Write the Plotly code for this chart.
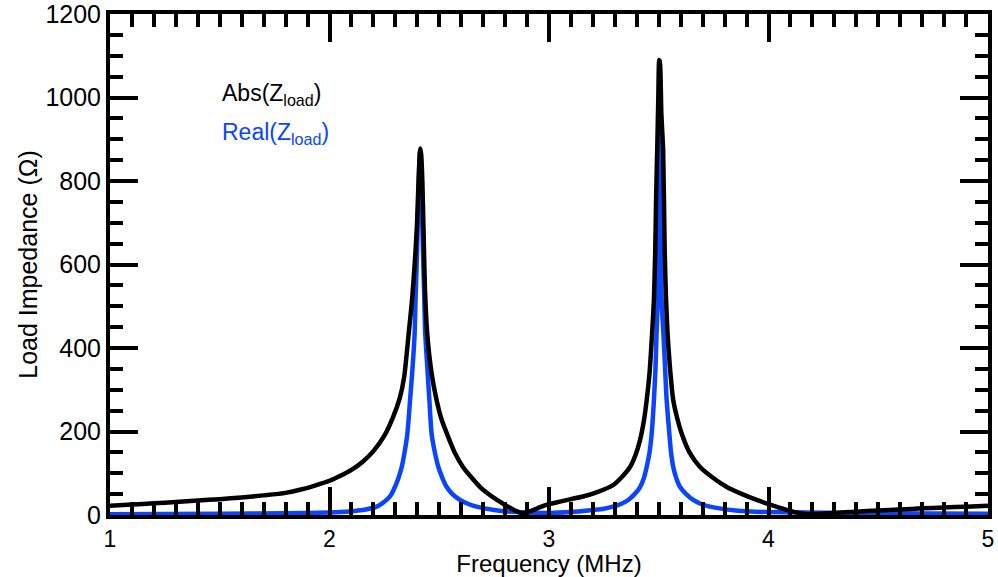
import plotly.graph_objects as go

# Abs(Z_load) (MHz, Ohm)
abs_freq = [1.00, 1.10, 1.20, 1.30, 1.40, 1.50, 1.60, 1.70, 1.80, 1.87, 1.93, 2.00, 2.05, 2.10,
            2.15, 2.20, 2.25, 2.29, 2.32, 2.34, 2.361, 2.376, 2.388, 2.398, 2.405, 2.410, 2.414,
            2.418, 2.423, 2.428, 2.435, 2.445, 2.465, 2.488, 2.51, 2.534, 2.57, 2.608, 2.65,
            2.686, 2.72, 2.763, 2.80, 2.84, 2.88, 2.92, 2.96, 3.00, 3.05, 3.10, 3.16, 3.22, 3.29,
            3.33, 3.369, 3.395, 3.415, 3.432, 3.445, 3.458, 3.468, 3.478, 3.484, 3.488, 3.493,
            3.498, 3.502, 3.506, 3.512, 3.52, 3.527, 3.533, 3.54, 3.55, 3.566, 3.585, 3.604,
            3.64, 3.688, 3.75, 3.81, 3.88, 3.946, 4.00, 4.06, 4.12, 4.18, 4.24, 4.30, 4.40,
            4.50, 4.60, 4.70, 4.80, 4.90, 5.00]
abs_z = [22, 25, 28, 31, 35, 38, 42, 47, 53, 61, 70, 82, 94, 108,
         127, 153, 190, 235, 280, 330, 436, 515, 600, 690, 790, 855, 878,
         862, 800, 690, 540, 436, 340, 275, 230, 196, 150, 115, 88,
         67, 52, 36, 24, 12, 4, 10, 19, 26, 32, 38, 45, 55, 71,
         90, 115, 145, 180, 225, 275, 340, 420, 515, 635, 760, 874,
         1000, 1090, 1080, 960, 874, 635, 520, 436, 360, 275, 230, 196,
         150, 115, 88, 67, 50, 36, 26, 16, 7, 2, 3, 5, 8,
         11, 13, 16, 18, 20, 22]

# Real(Z_load) (MHz, Ohm)
real_freq = [1.00, 1.50, 1.80, 2.00, 2.05, 2.10, 2.15, 2.18, 2.215, 2.24, 2.26, 2.28, 2.298,
             2.315, 2.329, 2.342, 2.355, 2.367, 2.378, 2.388, 2.392, 2.400, 2.406, 2.412,
             2.418, 2.425, 2.432, 2.436, 2.446, 2.455, 2.465, 2.48, 2.496, 2.515, 2.534, 2.56,
             2.595, 2.63, 2.67, 2.75, 2.85, 3.00, 3.10, 3.20, 3.25, 3.29, 3.33, 3.361, 3.39,
             3.415, 3.432, 3.445, 3.458, 3.468, 3.478, 3.485, 3.490, 3.495, 3.499, 3.502, 3.504,
             3.507, 3.510, 3.513, 3.521, 3.529, 3.536, 3.548, 3.556, 3.566, 3.58, 3.597, 3.625,
             3.657, 3.69, 3.733, 3.85, 4.00, 4.50, 5.00]
real_z = [2, 3, 4, 6, 7, 9, 12, 15, 20, 28, 36, 48, 67,
          90, 115, 150, 196, 275, 350, 436, 515, 650, 780, 870,
          790, 650, 515, 436, 350, 275, 196, 150, 115, 88, 67, 50,
          36, 27, 20, 12, 7, 5, 7, 12, 15, 20, 27, 36, 50,
          67, 88, 115, 150, 196, 275, 350, 436, 515, 700, 900, 1085,
          900, 700, 515, 436, 350, 275, 196, 150, 115, 88, 67, 50,
          36, 27, 20, 11, 7, 4, 3]

FONT = "Liberation Sans, Arial, Helvetica, sans-serif"
FS = 23
BLUE = "#0a44ff"

fig = go.Figure()
fig.add_trace(go.Scatter(x=real_freq, y=real_z, mode="lines",
                         line=dict(color=BLUE, width=4.5, shape="spline", smoothing=0.6),
                         showlegend=False))
fig.add_trace(go.Scatter(x=abs_freq, y=abs_z, mode="lines",
                         line=dict(color="black", width=4.5, shape="spline", smoothing=0.6),
                         showlegend=False))

axis_common = dict(
    showgrid=False, zeroline=False, automargin=False,
    showline=True, linecolor="black", linewidth=4, mirror="allticks",
    ticks="inside", ticklen=28, tickwidth=4, tickcolor="black",
    ticklabeloverflow="allow",
)

fig.update_xaxes(range=[1, 5], tick0=1, dtick=1,
                 tickfont=dict(family=FONT, size=23, color="black"),
                 minor=dict(ticks="inside", dtick=0.1, ticklen=13, tickwidth=4, tickcolor="black"),
                 title=dict(text="Frequency (MHz)", font=dict(family=FONT, size=24, color="black"),
                            standoff=6),
                 **axis_common)
fig.update_yaxes(range=[0, 1200], tick0=0, dtick=200,
                 tickfont=dict(family=FONT, size=25, color="black"),
                 minor=dict(ticks="inside", dtick=50, ticklen=13, tickwidth=4, tickcolor="black"),
                 title=dict(text="Load Impedance (Ω)", font=dict(family=FONT, size=25, color="black"),
                            standoff=2),
                 **axis_common)

fig.add_annotation(xref="paper", yref="paper", x=0.125, y=0.84, xanchor="left", yanchor="middle",
                   text="Abs(Z<sub>load</sub>)", showarrow=False,
                   font=dict(family=FONT, size=FS, color="black"))
fig.add_annotation(xref="paper", yref="paper", x=0.125, y=0.762, xanchor="left", yanchor="middle",
                   text="Real(Z<sub>load</sub>)", showarrow=False,
                   font=dict(family=FONT, size=FS, color=BLUE))

fig.update_layout(width=998, height=577,
                  margin=dict(l=110, r=10, t=14, b=62, autoexpand=False),
                  plot_bgcolor="white", paper_bgcolor="white",
                  font=dict(family=FONT, size=FS, color="black"))

# remove the default 8px page margin so the figure fills the window
fig.write_html("out.html", config={"displayModeBar": False},
               post_script="document.body.style.margin='0';")
